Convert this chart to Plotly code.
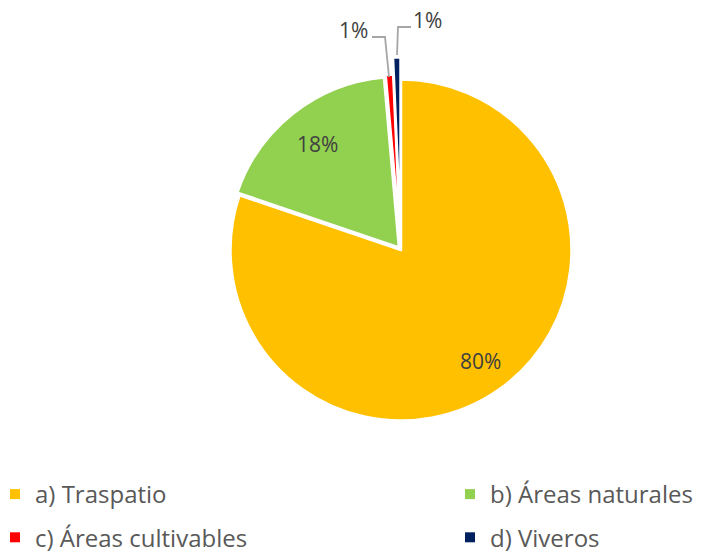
import math
import plotly.graph_objects as go

labels = ["a) Traspatio", "b) Áreas naturales", "c) Áreas cultivables", "d) Viveros"]
values = [80.2, 18.4, 0.7, 0.7]
colors = ["#FFC000", "#92D050", "#FF0000", "#002060"]
pulls = [0.0, 0.02, 0.03, 0.13]
legend_cols = ["legend", "legend2", "legend", "legend2"]

W, H = 728, 554
def px(x): return x / W
def py(y): return 1 - y / H

FONT = "Open Sans, Lato, sans-serif"
LBL = "#404040"

cx, cy, r = 401, 250, 170.5
half = r * (1 + max(pulls))

fig = go.Figure()
fig.add_trace(go.Pie(
    labels=labels, values=values, sort=False, direction="clockwise", rotation=0,
    marker=dict(colors=colors, line=dict(color="white", width=2.5)),
    pull=pulls, textinfo="none", showlegend=False,
    domain=dict(x=[px(cx - half), px(cx + half)],
                y=[py(cy + half), py(cy - half)]),
    hoverinfo="label+percent",
))

# legend entries (two columns)
for lab, col, lg in zip(labels, colors, legend_cols):
    fig.add_trace(go.Scatter(x=[None], y=[None], mode="markers", name=lab,
                             marker=dict(symbol="square", size=10, color=col),
                             legend=lg, legendgroup=lab, showlegend=True))

# percentage labels for large slices, placed on slice bisectors
total = sum(values)
cum = 0
fracs = [0.80, 0.79, None, None]
for v, f in zip(values, fracs):
    mid = (cum + v / 2) / total * 2 * math.pi
    cum += v
    if f is None:
        continue
    x = cx + f * r * math.sin(mid)
    y = cy - f * r * math.cos(mid)
    fig.add_annotation(x=px(x), y=py(y), xref="paper", yref="paper",
                       xanchor="center", yanchor="middle",
                       text=f"{round(v / total * 100)}%", showarrow=False,
                       font=dict(family=FONT, size=21, color=LBL))

# leader lines + labels for small slices
line_style = dict(color="#A6A6A6", width=1.8)
fig.add_shape(type="path", xref="paper", yref="paper",
              path=f"M {px(372)} {py(37)} L {px(385)} {py(37)} L {px(389)} {py(77)}",
              line=line_style)
fig.add_shape(type="path", xref="paper", yref="paper",
              path=f"M {px(411)} {py(27)} L {px(398)} {py(27)} L {px(397)} {py(55)}",
              line=line_style)
small_pos = [(353, 30), (427, 20)]
for v, (x, y) in zip(values[2:], small_pos):
    fig.add_annotation(x=px(x), y=py(y), xref="paper", yref="paper",
                       xanchor="center", yanchor="middle",
                       text=f"{max(1, round(v / total * 100))}%", showarrow=False,
                       font=dict(family=FONT, size=21, color=LBL))

leg_common = dict(orientation="v", yanchor="top", xanchor="left",
                  font=dict(family=FONT, size=24, color="#595959"),
                  itemwidth=30, tracegroupgap=9, bgcolor="rgba(0,0,0,0)",
                  maxheight=300)

fig.update_layout(
    width=W, height=H,
    margin=dict(l=0, r=0, t=0, b=0, autoexpand=False),
    paper_bgcolor="white", plot_bgcolor="white",
    xaxis=dict(visible=False), yaxis=dict(visible=False),
    legend=dict(x=px(-5), y=py(472), **leg_common),
    legend2=dict(x=px(450), y=py(472), **leg_common),
)

fig.write_html("out.html", config={"displayModeBar": False},
               post_script="document.body.style.margin='0px';document.body.style.overflow='hidden';")
